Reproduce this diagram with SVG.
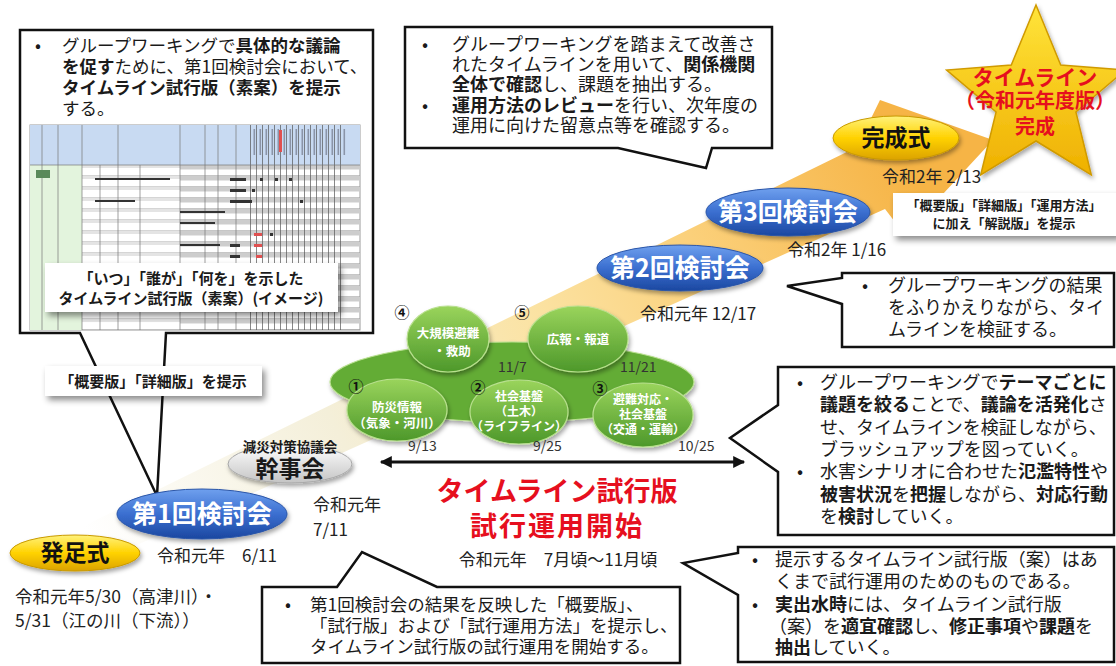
<svg xmlns="http://www.w3.org/2000/svg" width="1116" height="666" viewBox="0 0 1116 666">
<style>
text{font-family:"Noto Sans CJK JP","Liberation Sans",sans-serif;fill:#1a1a1a}
.c{font-size:18px}
.c17{font-size:17.5px}
.b{font-weight:bold}
.lbl{font-size:15px;font-weight:bold;text-anchor:middle}
.d{font-size:17px;fill:#222}
.dt{font-size:14px;fill:#333}
.gw{font-size:12.5px;font-weight:bold;fill:#fff;text-anchor:middle}
.num{font-size:15px;font-weight:bold;text-anchor:middle;fill:#111}
.ev{font-size:25px;font-weight:bold;fill:#fff;text-anchor:middle}
.evk{font-size:23px;font-weight:bold;fill:#111;text-anchor:middle}
.red{fill:#e60f1e;font-weight:bold;text-anchor:middle}
.box{fill:#fff;stroke:#111;stroke-width:2.5;stroke-linejoin:miter}
.tag{fill:#fff;filter:url(#sh)}
.g{stroke:#b9e08f;stroke-width:1.2;fill:url(#gg);filter:url(#es)}
</style>
<defs>
<linearGradient id="band" gradientUnits="userSpaceOnUse" x1="100" y1="560" x2="900" y2="150">
<stop offset="0" stop-color="#ffffff"/>
<stop offset="0.3" stop-color="#f4efd9"/>
<stop offset="0.55" stop-color="#fbe3a4"/>
<stop offset="0.75" stop-color="#fbd07a"/>
<stop offset="1" stop-color="#f6b446"/>
</linearGradient>
<linearGradient id="blue" x1="0" y1="0" x2="0" y2="1">
<stop offset="0" stop-color="#6fa0ee"/><stop offset="0.5" stop-color="#3b6fd0"/><stop offset="1" stop-color="#1b47a0"/>
</linearGradient>
<linearGradient id="gold" x1="0" y1="0" x2="0" y2="1">
<stop offset="0" stop-color="#fff27c"/><stop offset="0.5" stop-color="#ffd200"/><stop offset="1" stop-color="#dba200"/>
</linearGradient>
<linearGradient id="gray" x1="0" y1="0" x2="0" y2="1">
<stop offset="0" stop-color="#ffffff"/><stop offset="1" stop-color="#c4c4c4"/>
</linearGradient>
<linearGradient id="gg" x1="0" y1="0" x2="0" y2="1">
<stop offset="0" stop-color="#9ad45c"/><stop offset="1" stop-color="#4d982a"/>
</linearGradient>
<linearGradient id="star" x1="0" y1="0" x2="0" y2="1">
<stop offset="0" stop-color="#ffe43a"/><stop offset="1" stop-color="#efb000"/>
</linearGradient>
<filter id="sh" x="-10%" y="-20%" width="125%" height="160%">
<feDropShadow dx="3" dy="4" stdDeviation="3" flood-color="#000" flood-opacity="0.45"/>
</filter>
<filter id="es" x="-10%" y="-20%" width="125%" height="160%">
<feDropShadow dx="1.5" dy="3" stdDeviation="2" flood-color="#000" flood-opacity="0.35"/>
</filter>
<pattern id="rows" width="10" height="11" patternUnits="userSpaceOnUse" x="0" y="165">
<rect width="10" height="4.5" fill="#cdcdcd"/><line x1="0" y1="10.5" x2="10" y2="10.5" stroke="#a0a0a0" stroke-width="0.6"/>
</pattern>
<pattern id="rows2" width="10" height="11" patternUnits="userSpaceOnUse" x="0" y="165">
<rect width="10" height="3" fill="#e4e4e4"/><line x1="0" y1="10.5" x2="10" y2="10.5" stroke="#b8b8b8" stroke-width="0.6"/>
</pattern>
<pattern id="cols" width="6" height="10" patternUnits="userSpaceOnUse" x="250" y="0">
<line x1="0.5" y1="0" x2="0.5" y2="10" stroke="#555" stroke-width="0.7"/>
</pattern>
<pattern id="hdr" width="6" height="40" patternUnits="userSpaceOnUse" x="252" y="127">
<rect x="1.5" y="2" width="1.6" height="26" fill="#8a94a8"/>
</pattern>
<marker id="ah" viewBox="0 0 10 10" refX="9" refY="5" markerWidth="5" markerHeight="4" orient="auto-start-reverse">
<path d="M0,0 L10,5 L0,10 Z" fill="#111"/>
</marker>
</defs>

<rect width="1116" height="666" fill="#fff"/>

<g id="band-arrow">
<polygon points="-10,572 857,147 880,100 993,140 905,235 885,209 -10,611" fill="url(#band)"/>
</g>

<g id="callout-top-left">
<path class="box" d="M20,30 H373 V333 H166 L157,496 L80,333 H20 Z"/>
<text class="c17"><tspan x="35" y="52">•</tspan><tspan x="62" y="52">グループワーキングで</tspan><tspan class="b">具体的な議論</tspan><tspan x="62" y="73" class="b">を促す</tspan><tspan>ために、第1回検討会において、</tspan><tspan x="62" y="94" class="b">タイムライン試行版（素案）を提示</tspan><tspan x="62" y="115">する。</tspan></text>
<g id="sheet">
<rect x="30" y="125" width="330" height="205" fill="#fff" stroke="#9a9a9a"/>
<rect x="30" y="125" width="330" height="40" fill="#c8daf2"/>
<rect x="30" y="165" width="52" height="165" fill="#e3f4dd"/>
<rect x="82" y="165" width="98" height="165" fill="url(#rows2)"/>
<rect x="180" y="165" width="180" height="165" fill="url(#rows)"/>
<rect x="250" y="125" width="96" height="205" fill="url(#cols)"/>
<rect x="250" y="127" width="96" height="36" fill="url(#hdr)"/>
<g stroke="#777" stroke-width="0.7">
<line x1="42" y1="125" x2="42" y2="330"/><line x1="58" y1="125" x2="58" y2="330"/>
<line x1="82" y1="125" x2="82" y2="330"/><line x1="100" y1="165" x2="100" y2="330"/>
<line x1="118" y1="125" x2="118" y2="330"/><line x1="140" y1="165" x2="140" y2="330"/>
<line x1="180" y1="125" x2="180" y2="330"/><line x1="205" y1="125" x2="205" y2="330"/>
<line x1="218" y1="125" x2="218" y2="330"/><line x1="236" y1="125" x2="236" y2="330"/>
<line x1="30" y1="165" x2="360" y2="165"/>
</g>
<g fill="#333">
<rect x="230" y="178" width="16" height="3"/><rect x="230" y="189" width="16" height="3"/>
<rect x="230" y="200" width="22" height="3"/><rect x="260" y="178" width="3" height="3"/>
<rect x="275" y="178" width="3" height="3"/><rect x="289" y="178" width="3" height="3"/>
<rect x="252" y="189" width="3" height="3"/><rect x="300" y="200" width="3" height="3"/>
<rect x="230" y="244" width="10" height="3"/><rect x="230" y="255" width="10" height="3"/>
<rect x="245" y="266" width="3" height="3"/><rect x="270" y="233" width="3" height="3"/>
<rect x="95" y="178" width="50" height="2"/><rect x="95" y="200" width="40" height="2"/>
<rect x="140" y="178" width="30" height="2"/><rect x="180" y="211" width="45" height="2"/>
<rect x="180" y="222" width="35" height="2"/><rect x="180" y="244" width="40" height="2"/>
<rect x="36" y="170" width="14" height="8" fill="#5a8a5a"/>
</g>
<g fill="#e05050">
<rect x="254" y="233" width="8" height="3"/><rect x="254" y="244" width="8" height="3"/>
<rect x="256" y="255" width="6" height="3"/><rect x="279" y="130" width="3" height="22"/>
</g>
</g>
<rect class="tag" x="45" y="263" width="293" height="49"/>
<text class="lbl"><tspan x="191" y="284">「いつ」「誰が」「何を」を示した</tspan><tspan x="191" y="304">タイムライン試行版（素案）(イメージ)</tspan></text>
<rect class="tag" x="45" y="366" width="217" height="30"/>
<text class="lbl" x="153" y="387">「概要版」「詳細版」を提示</text>
</g>

<g id="callout-top-mid">
<path class="box" d="M405,27 H772 V148 H712 L706,168 L618,148 H405 Z"/>
<text class="c"><tspan x="422" y="51">•</tspan><tspan x="452" y="51">グループワーキングを踏まえて改善さ</tspan><tspan x="452" y="71">れたタイムラインを用いて、</tspan><tspan class="b">関係機関</tspan><tspan x="452" y="91" class="b">全体で確認</tspan><tspan>し、課題を抽出する。</tspan><tspan x="422" y="112">•</tspan><tspan x="452" y="112" class="b">運用方法のレビュー</tspan><tspan>を行い、次年度の</tspan><tspan x="452" y="132">運用に向けた留意点等を確認する。</tspan></text>
</g>

<g id="callout-right-1">
<path class="box" d="M842,273 H1114 V347 H842 V304 L787,286 L842,278 Z"/>
<text class="c"><tspan x="862" y="292">•</tspan><tspan x="888" y="292">グループワーキングの結果</tspan><tspan x="888" y="314">をふりかえりながら、タイ</tspan><tspan x="888" y="336">ムラインを検証する。</tspan></text>
</g>

<g id="callout-right-2">
<path class="box" d="M778,367 H1114 V535 H778 V472 L730,438 L778,405 Z"/>
<text class="c"><tspan x="797" y="389">•</tspan><tspan x="820" y="389">グループワーキングで</tspan><tspan class="b">テーマごとに</tspan><tspan x="820" y="411" class="b">議題を絞る</tspan><tspan>ことで、</tspan><tspan class="b">議論を活発化</tspan><tspan>さ</tspan><tspan x="820" y="434">せ、タイムラインを検証しながら、</tspan><tspan x="820" y="456">ブラッシュアップを図っていく。</tspan><tspan x="797" y="478">•</tspan><tspan x="820" y="478">水害シナリオに合わせた</tspan><tspan class="b">氾濫特性</tspan><tspan>や</tspan><tspan x="820" y="501" class="b">被害状況</tspan><tspan>を</tspan><tspan class="b">把握</tspan><tspan>しながら、</tspan><tspan class="b">対応行動</tspan><tspan x="820" y="523">を</tspan><tspan class="b">検討</tspan><tspan>していく。</tspan></text>
</g>

<g id="callout-bottom-right">
<path class="box" d="M738,547 H1114 V662 H738 V595 L683,563 L738,553 Z"/>
<text class="c"><tspan x="752" y="566">•</tspan><tspan x="775" y="566">提示するタイムライン試行版（案）はあ</tspan><tspan x="775" y="588">くまで試行運用のためのものである。</tspan><tspan x="752" y="611">•</tspan><tspan x="775" y="611" class="b">実出水時</tspan><tspan>には、タイムライン試行版</tspan><tspan x="769" y="633">（案）を</tspan><tspan class="b">適宜確認</tspan><tspan>し、</tspan><tspan class="b">修正事項</tspan><tspan>や</tspan><tspan class="b">課題</tspan><tspan>を</tspan><tspan x="775" y="654" class="b">抽出</tspan><tspan>していく。</tspan></text>
</g>

<g id="callout-bottom-mid">
<path class="box" d="M262,587 H337 L362,552 L437,587 H680 V663 H262 Z"/>
<text class="c17"><tspan x="285" y="611">•</tspan><tspan x="310" y="611">第1回検討会の結果を反映した「概要版」、</tspan><tspan x="310" y="632">「試行版」および「試行運用方法」を提示し、</tspan><tspan x="310" y="653">タイムライン試行版の試行運用を開始する。</tspan></text>
</g>

<g id="node-hossoku">
<ellipse cx="75" cy="553" rx="65" ry="18" fill="url(#gold)" stroke="#c99a00" filter="url(#es)"/>
<text class="evk" x="75" y="561">発足式</text>
</g>
<g id="node-kentou1">
<ellipse cx="202" cy="514" rx="85" ry="25" fill="url(#blue)" stroke="#2a55a8" filter="url(#es)"/>
<text class="ev" x="202" y="523">第1回検討会</text>
</g>
<g id="node-kanjikai">
<ellipse cx="290" cy="464" rx="62" ry="19" fill="url(#gray)" stroke="#a8a8a8" filter="url(#es)"/>
<text style="text-anchor:middle;font-weight:bold"><tspan x="290" y="452" style="font-size:13.5px">減災対策協議会</tspan><tspan x="290" y="477" style="font-size:23px">幹事会</tspan></text>
</g>
<g id="node-kentou2">
<ellipse cx="680" cy="268" rx="83" ry="23" fill="url(#blue)" stroke="#2a55a8" filter="url(#es)"/>
<text class="ev" x="680" y="277">第2回検討会</text>
</g>
<g id="node-kentou3">
<ellipse cx="788" cy="212" rx="82" ry="24" fill="url(#blue)" stroke="#2a55a8" filter="url(#es)"/>
<text class="ev" x="788" y="221">第3回検討会</text>
</g>
<g id="node-kansei">
<ellipse cx="896" cy="138" rx="63" ry="22" fill="url(#gold)" stroke="#c99a00" filter="url(#es)"/>
<text class="evk" x="896" y="146">完成式</text>
</g>

<g id="node-star">
<path d="M1036,5 L1060.7,65 L1125.4,70 L1075.9,112 L1091.3,175 L1036,141 L980.7,175 L996.1,112 L946.6,70 L1011.3,65 Z" fill="url(#star)" stroke="#d09a00" stroke-width="1.5" filter="url(#es)"/>
<text class="red"><tspan x="1035" y="85" style="font-size:21px">タイムライン</tspan><tspan x="1035" y="108" style="font-size:20px">（令和元年度版）</tspan><tspan x="1035" y="134" style="font-size:20px">完成</tspan></text>
</g>

<g id="node-groups">
<ellipse cx="512" cy="382" rx="182" ry="40" fill="#63ac36" stroke="#b9e08f" stroke-width="1.2" filter="url(#es)"/>
<ellipse class="g" cx="448" cy="339" rx="41" ry="33"/>
<ellipse class="g" cx="578" cy="339" rx="50" ry="33"/>
<ellipse class="g" cx="397" cy="410" rx="50" ry="31"/>
<ellipse class="g" cx="519" cy="412" rx="49" ry="32"/>
<ellipse class="g" cx="643" cy="415" rx="50" ry="32"/>
<text class="gw"><tspan x="448" y="338">大規模避難</tspan><tspan x="452" y="356">・救助</tspan></text>
<text class="gw" x="578" y="344">広報・報道</text>
<text class="gw"><tspan x="397" y="412">防災情報</tspan><tspan x="397" y="428">（気象・河川）</tspan></text>
<text class="gw" style="font-size:12px"><tspan x="519" y="401">社会基盤</tspan><tspan x="519" y="416">（土木）</tspan><tspan x="519" y="431">（ライフライン）</tspan></text>
<text class="gw" style="font-size:12px"><tspan x="643" y="404">避難対応・</tspan><tspan x="643" y="419">社会基盤</tspan><tspan x="643" y="434">（交通・運輸）</tspan></text>
<text class="num" x="402" y="318">④</text>
<text class="num" x="522" y="318">⑤</text>
<text class="num" x="356" y="392">①</text>
<text class="num" x="478" y="393">②</text>
<text class="num" x="600" y="394">③</text>
<text class="dt" x="498" y="372">11/7</text>
<text class="dt" x="620" y="372">11/21</text>
<text class="dt" x="408" y="451">9/13</text>
<text class="dt" x="533" y="451">9/25</text>
<text class="dt" x="678" y="451">10/25</text>
</g>

<g id="connectors">
<line x1="381" y1="462" x2="744" y2="462" stroke="#111" stroke-width="3" marker-start="url(#ah)" marker-end="url(#ah)"/>
</g>

<g id="labels">
<text class="red"><tspan x="557" y="501" style="font-size:27px">タイムライン試行版</tspan><tspan x="557" y="536" style="font-size:27px;letter-spacing:2px">試行運用開始</tspan></text>
<text class="d" x="558" y="566" text-anchor="middle">令和元年　7月頃～11月頃</text>
<text class="d" x="157" y="562">令和元年　6/11</text>
<text class="d"><tspan x="313" y="511">令和元年</tspan><tspan x="313" y="536">7/11</tspan></text>
<text class="d" style="font-size:17.5px"><tspan x="15" y="603">令和元年5/30（高津川）・</tspan><tspan x="15" y="627">5/31（江の川（下流））</tspan></text>
<text class="d" x="640" y="320">令和元年 12/17</text>
<text class="d" x="787" y="256">令和2年 1/16</text>
<text class="d" x="882" y="183">令和2年 2/13</text>
<rect class="tag" x="893" y="193" width="225" height="43"/>
<text style="font-size:13px;font-weight:bold;text-anchor:middle"><tspan x="1004" y="210">「概要版」「詳細版」「運用方法」</tspan><tspan x="1004" y="228">に加え「解説版」を提示</tspan></text>
</g>
</svg>
